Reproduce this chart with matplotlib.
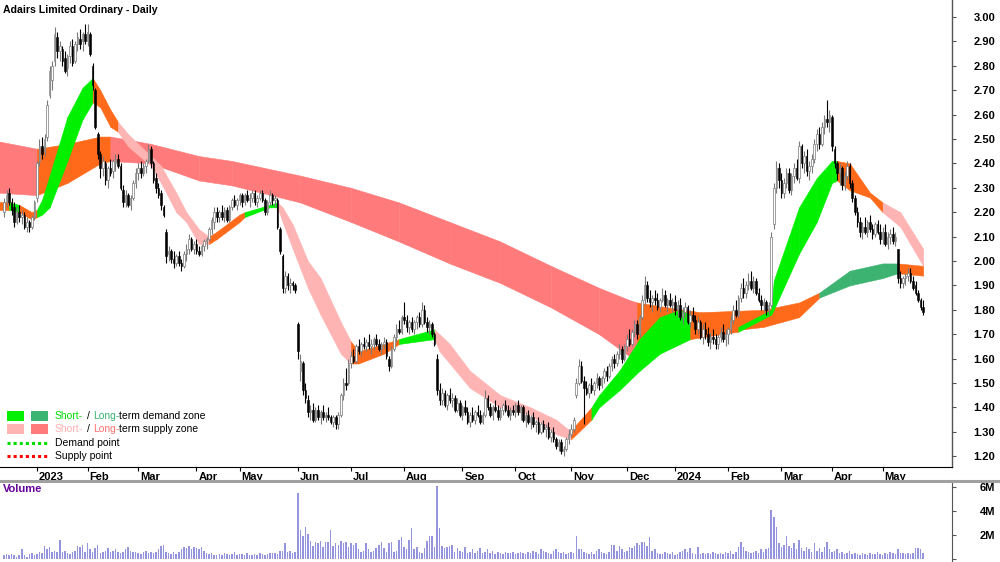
import numpy as np
import pandas as pd
import matplotlib
matplotlib.use("Agg")
import matplotlib.pyplot as plt
from matplotlib.lines import Line2D
from matplotlib.patches import Rectangle
from matplotlib.transforms import ScaledTranslation

# ---- daily bars, prices in cents (12 Dec 2022 .. 23 May 2024) ----
opens = [
    220, 224, 228, 224, 222, 216, 220, 218, 219, 214, 216, 214, 218,  # Dec 22
    226, 241, 247, 245, 251, 268, 274, 282, 292, 286, 287, 283, 279, 284, 288, 282, 289, 291, 290, 293,  # Jan
    290, 293, 280, 270, 252, 244, 238, 240, 233, 238, 237, 240, 242, 239, 229, 224, 227, 223, 226, 232,  # Feb
    236, 238, 236, 239, 241, 246, 240, 234, 230, 228, 222, 212, 203, 204, 201, 199, 202, 199, 198, 203, 205, 209, 205,  # Mar
    207, 204, 203, 206, 208, 209, 213, 216, 220, 218, 220, 218, 221, 217, 222, 225, 223,  # Apr
    225, 227, 224, 227, 225, 226, 228, 224, 226, 228, 225, 220, 224, 227, 225, 225, 213, 202, 189, 194, 190, 191, 190,  # May
    174, 155, 158, 147, 143, 138, 139, 135, 139, 136, 138, 136, 137, 136, 134, 136, 133, 137, 145, 150, 150,  # Jun
    158, 161, 159, 165, 163, 166, 165, 167, 165, 166, 168, 166, 164, 166, 167, 160, 157, 164, 169, 172, 171,  # Jul
    177, 176, 173, 175, 172, 175, 177, 174, 180, 175, 173, 174, 170, 160, 147, 143, 146, 141, 145, 143, 144, 139, 142,  # Aug
    137, 140, 138, 134, 137, 135, 138, 137, 134, 137, 144, 140, 137, 140, 139, 136, 139, 141, 139, 137, 139,  # Sep
    138, 141, 138, 140, 135, 137, 134, 136, 133, 134, 130, 133, 131, 132, 128, 130, 127, 124, 126, 122, 123, 127,  # Oct
    129, 131, 145, 150, 157, 151, 148, 146, 149, 147, 150, 152, 149, 152, 155, 153, 157, 160, 158, 162, 164, 160,  # Nov
    165, 168, 166, 171, 174, 170, 177, 184, 190, 185, 183, 185, 184, 181, 184, 186, 182, 184, 182,  # Dec
    183, 180, 182, 177, 179, 181, 175, 178, 176, 172, 175, 169, 172, 170, 167, 169, 168, 166, 169, 171, 168,  # Jan 24
    170, 172, 176, 180, 178, 185, 189, 187, 190, 192, 189, 192, 187, 184, 182, 183, 180, 182, 215, 230, 238,  # Feb
    233, 228, 232, 236, 229, 235, 238, 234, 247, 240, 243, 237, 239, 242, 248, 252, 248, 255, 258, 257,  # Mar
    259, 246, 240, 236, 238, 231, 235, 239, 232, 226, 220, 216, 212, 214, 212, 216, 213, 211, 215, 212,  # Apr
    209, 212, 207, 210, 211, 208, 205, 193, 191, 193, 194, 195, 192, 190, 187, 184, 181,  # May
]
highs = [
    226, 229, 230, 226, 224, 222, 223, 221, 220, 218, 217, 219, 225,
    241, 250, 251, 252, 266, 280, 282, 296, 294, 290, 288, 286, 285, 290, 291, 290, 294, 295, 294, 297,
    297, 294, 281, 271, 253, 245, 243, 241, 239, 242, 242, 244, 244, 240, 231, 229, 228, 227, 233, 238,
    240, 241, 240, 242, 248, 247, 241, 236, 232, 229, 223, 213, 206, 205, 204, 203, 204, 201, 204, 207, 211, 210, 208,
    209, 206, 207, 209, 210, 214, 218, 222, 222, 221, 223, 222, 222, 223, 226, 227, 226,
    228, 228, 228, 229, 228, 229, 229, 227, 229, 229, 226, 225, 229, 228, 227, 226, 214, 203, 196, 195, 193, 192, 191,
    175, 162, 159, 150, 145, 141, 142, 140, 141, 139, 141, 138, 140, 137, 137, 137, 138, 146, 152, 156, 160,
    163, 164, 166, 168, 167, 169, 168, 170, 168, 169, 170, 168, 167, 169, 168, 161, 165, 170, 174, 176, 178,
    183, 178, 176, 177, 176, 178, 179, 183, 182, 177, 176, 175, 171, 162, 150, 148, 147, 146, 148, 146, 145, 144, 143,
    141, 143, 140, 138, 140, 139, 141, 139, 138, 147, 145, 142, 141, 143, 141, 140, 142, 143, 141, 140, 141,
    142, 143, 141, 141, 138, 139, 137, 138, 135, 136, 134, 135, 133, 134, 131, 132, 128, 127, 127, 124, 128, 131,
    133, 136, 152, 160, 159, 153, 151, 150, 152, 151, 154, 153, 153, 156, 157, 158, 161, 162, 163, 166, 165, 166,
    170, 172, 172, 176, 176, 178, 186, 194, 192, 188, 186, 188, 187, 185, 189, 188, 185, 187, 185,
    186, 184, 185, 181, 183, 182, 180, 181, 178, 177, 176, 174, 175, 173, 171, 172, 170, 170, 173, 174, 172,
    173, 178, 182, 184, 186, 191, 193, 192, 195, 196, 194, 193, 189, 186, 185, 184, 183, 212, 232, 241, 240,
    236, 234, 238, 238, 236, 240, 242, 249, 248, 245, 246, 241, 244, 250, 254, 255, 257, 260, 266, 262,
    260, 247, 241, 240, 239, 237, 241, 240, 233, 227, 222, 218, 216, 218, 217, 219, 215, 216, 217, 215,
    214, 215, 212, 213, 214, 212, 205, 196, 194, 195, 197, 197, 194, 192, 188, 185, 184,
]
lows = [
    218, 222, 223, 219, 214, 215, 216, 215, 213, 212, 212, 213, 217,
    224, 239, 242, 243, 249, 267, 270, 280, 283, 282, 280, 277, 276, 281, 280, 281, 286, 287, 286, 289,
    288, 284, 270, 254, 242, 234, 235, 231, 230, 235, 234, 237, 238, 229, 222, 222, 222, 221, 225, 230,
    233, 234, 235, 236, 240, 238, 232, 228, 226, 221, 218, 199, 200, 199, 197, 198, 198, 196, 197, 200, 203, 204, 203,
    203, 202, 202, 204, 205, 208, 211, 213, 216, 216, 217, 216, 216, 216, 221, 222, 221,
    223, 222, 223, 224, 222, 224, 223, 222, 225, 224, 219, 219, 223, 223, 222, 213, 203, 187, 187, 188, 187, 188, 187,
    160, 151, 145, 142, 136, 135, 134, 134, 135, 133, 135, 134, 135, 133, 132, 131, 131, 136, 143, 147, 149,
    156, 158, 158, 162, 161, 164, 163, 164, 162, 164, 165, 163, 162, 164, 160, 155, 156, 163, 167, 170, 170,
    174, 171, 170, 171, 170, 172, 173, 173, 174, 171, 170, 169, 165, 145, 141, 141, 140, 139, 142, 140, 138, 138, 136,
    135, 137, 133, 132, 134, 133, 136, 133, 133, 136, 139, 136, 135, 138, 135, 135, 137, 138, 136, 135, 137,
    136, 137, 135, 134, 132, 133, 131, 132, 130, 129, 129, 130, 128, 127, 126, 126, 123, 122, 121, 120, 122, 125,
    128, 130, 144, 149, 150, 133, 145, 144, 146, 145, 148, 147, 148, 150, 151, 152, 155, 156, 157, 160, 158, 159,
    163, 165, 165, 169, 168, 169, 176, 182, 183, 181, 179, 182, 180, 179, 183, 181, 179, 181, 179,
    178, 177, 176, 174, 177, 174, 173, 175, 170, 170, 168, 166, 168, 165, 164, 166, 164, 164, 167, 167, 165,
    166, 170, 174, 177, 177, 183, 185, 185, 188, 188, 187, 186, 183, 180, 179, 178, 178, 181, 213, 228, 230,
    226, 226, 230, 228, 227, 232, 233, 232, 238, 236, 235, 233, 236, 240, 245, 246, 247, 252, 255, 253,
    245, 238, 233, 231, 229, 229, 233, 230, 224, 219, 214, 210, 209, 211, 210, 212, 209, 210, 211, 207,
    207, 206, 205, 207, 207, 206, 191, 189, 189, 190, 192, 191, 188, 186, 183, 180, 178,
]
closes = [
    224, 227, 224, 221, 216, 220, 218, 219, 214, 216, 214, 218, 224,
    240, 247, 244, 250, 264, 278, 280, 293, 286, 288, 282, 278, 284, 288, 281, 289, 292, 289, 293, 290,
    294, 285, 272, 255, 244, 238, 241, 233, 238, 236, 241, 242, 239, 230, 224, 227, 223, 226, 232, 236,
    238, 236, 239, 241, 246, 240, 233, 230, 227, 223, 219, 202, 204, 201, 199, 202, 199, 198, 203, 205, 209, 205, 207,
    204, 203, 206, 208, 209, 213, 217, 220, 218, 220, 218, 221, 217, 222, 225, 223, 225,
    227, 224, 227, 225, 226, 228, 224, 226, 228, 225, 220, 224, 227, 225, 226, 214, 204, 189, 194, 190, 191, 190, 188,
    163, 159, 147, 144, 138, 139, 135, 139, 136, 138, 136, 137, 136, 134, 136, 133, 137, 145, 150, 149, 158,
    161, 159, 165, 163, 166, 165, 167, 165, 166, 168, 166, 164, 166, 167, 161, 157, 164, 169, 172, 171, 177,
    176, 173, 175, 172, 175, 177, 174, 180, 175, 173, 174, 170, 166, 147, 143, 146, 141, 145, 143, 144, 139, 142, 137,
    140, 138, 134, 137, 135, 138, 137, 134, 137, 144, 140, 137, 140, 139, 136, 139, 141, 139, 137, 139, 138,
    141, 138, 140, 135, 137, 134, 136, 133, 134, 130, 133, 131, 132, 128, 130, 127, 124, 126, 122, 123, 127, 129,
    131, 135, 150, 157, 151, 148, 146, 149, 147, 150, 152, 149, 152, 155, 153, 157, 160, 158, 162, 164, 160, 165,
    168, 166, 171, 174, 170, 177, 184, 190, 185, 183, 185, 184, 181, 184, 186, 182, 184, 182, 183,
    180, 182, 177, 179, 181, 175, 178, 176, 172, 175, 169, 172, 170, 167, 169, 168, 166, 169, 171, 168, 170,
    172, 176, 180, 178, 185, 189, 187, 190, 192, 189, 192, 187, 184, 182, 183, 180, 182, 210, 230, 238, 233,
    228, 232, 236, 229, 235, 238, 234, 247, 240, 243, 237, 239, 242, 248, 252, 248, 255, 258, 257, 260,
    247, 240, 236, 238, 231, 235, 239, 232, 226, 220, 216, 212, 214, 212, 216, 213, 211, 215, 212, 209,
    212, 207, 210, 211, 208, 210, 193, 191, 193, 194, 195, 192, 189, 187, 184, 181, 179,
]
volume_m = [
    0.3, 0.4, 0.3, 0.4, 0.3, 0.2, 0.3, 0.8, 0.3, 0.2, 0.4, 0.5, 0.3, 0.4, 0.6, 0.5, 1.1, 0.8, 1.0, 0.6,
    0.7, 0.6, 1.6, 0.6, 0.7, 0.5, 0.4, 0.6, 0.7, 1.1, 1.0, 1.2, 0.6, 1.3, 0.8, 0.6, 0.9, 1.2, 0.5, 0.6,
    0.7, 0.9, 0.6, 0.7, 0.8, 0.6, 0.5, 0.6, 0.8, 1.0, 0.7, 0.6, 0.6, 0.5, 0.4, 0.6, 0.7, 0.5, 0.6, 0.5,
    0.6, 0.8, 1.1, 1.2, 0.6, 0.5, 0.4, 0.6, 0.4, 0.6, 0.8, 1.0, 0.9, 1.1, 0.8, 1.0, 0.9, 0.8, 1.0, 0.7,
    0.5, 0.4, 0.5, 0.3, 0.3, 0.4, 0.3, 0.5, 0.4, 0.3, 0.4, 0.6, 0.3, 0.4, 0.4, 0.3, 0.5, 0.3, 0.3, 0.4,
    0.3, 0.5, 0.4, 0.3, 0.4, 0.5, 0.5, 0.5, 0.4, 0.7, 0.7, 1.3, 0.6, 0.7, 0.5, 0.6, 5.5, 2.4, 1.9, 2.7,
    2.1, 1.5, 1.1, 1.4, 1.3, 1.5, 1.0, 1.4, 1.4, 2.4, 1.1, 1.3, 1.2, 1.5, 1.3, 1.4, 1.0, 1.3, 1.2, 1.3,
    0.8, 0.6, 0.7, 1.3, 0.8, 0.6, 0.7, 0.9, 1.2, 1.4, 0.9, 0.6, 1.3, 1.4, 0.6, 0.7, 1.6, 1.8, 1.0, 0.8,
    1.6, 2.6, 0.8, 1.0, 0.6, 0.5, 0.9, 1.5, 1.9, 1.9, 1.0, 6.1, 2.6, 1.1, 0.9, 1.0, 1.1, 1.2, 0.6, 0.9,
    0.7, 0.6, 1.0, 0.5, 0.6, 0.8, 0.5, 0.7, 0.9, 0.5, 0.6, 0.8, 0.5, 0.7, 0.4, 0.6, 0.5, 0.4, 0.6, 0.5,
    0.5, 0.6, 0.4, 0.5, 0.6, 0.5, 0.4, 0.6, 0.5, 0.7, 0.6, 0.4, 0.8, 0.7, 0.6, 0.5, 0.4, 0.7, 0.8, 0.6,
    0.5, 0.6, 0.4, 0.5, 0.6, 0.5, 1.9, 0.8, 0.8, 0.6, 0.5, 0.4, 0.6, 0.4, 0.7, 0.8, 0.6, 0.5, 0.4, 0.6,
    1.2, 1.2, 0.7, 1.1, 0.8, 0.6, 0.7, 1.0, 0.9, 1.1, 1.3, 1.2, 1.4, 1.4, 1.1, 1.8, 0.7, 0.8, 0.5, 0.4,
    0.4, 0.6, 0.5, 0.4, 0.6, 0.3, 0.4, 0.6, 0.7, 0.8, 0.6, 0.9, 0.5, 0.4, 1.0, 0.4, 0.5, 0.4, 0.5, 0.4,
    0.6, 0.5, 0.4, 0.5, 0.4, 0.6, 0.5, 0.7, 0.4, 0.6, 1.0, 1.4, 1.0, 0.7, 0.6, 0.5, 0.6, 0.7, 0.5, 0.8,
    0.6, 0.8, 0.9, 4.1, 3.5, 2.7, 1.3, 1.0, 1.2, 1.9, 1.1, 0.9, 1.3, 0.8, 1.6, 0.9, 0.7, 1.0, 0.8, 0.6,
    1.3, 0.7, 0.9, 0.6, 1.0, 1.4, 0.8, 0.6, 0.7, 0.8, 0.5, 0.6, 0.4, 0.5, 0.7, 0.4, 0.5, 0.4, 0.3, 0.5,
    0.4, 0.3, 0.5, 0.4, 0.4, 0.6, 0.4, 0.3, 0.5, 0.4, 0.6, 0.5, 0.4, 0.8, 0.5, 0.5, 0.4, 0.5, 0.4, 0.5,
    0.9, 0.9, 0.8, 0.5,
]

# ---- zone bands (bar index, top, bottom in cents, state) ----
# state: D = demand, S = supply, N = neutral (orange)
long_idx = [-2, 13, 25, 38, 42, 58, 77, 90, 117, 137, 156, 176, 196, 216, 235, 247,
            250, 262, 275, 300, 314, 322, 334, 347, 353, 363]
long_top = [249, 246, 248, 251, 251, 248, 243, 241, 235, 230, 224, 216, 208, 198, 189, 184,
            183, 181, 179, 180, 183, 187, 196, 199, 199, 198]
long_bot = [228, 227, 232, 240, 241, 240, 233, 231, 224, 216, 208, 199, 191, 181, 170, 161,
            160, 164, 170, 173, 177, 185, 190, 193, 195, 194]
long_state = "SNNNSSSSSSSSSSSSNNNNNDDDNN"

short_idx = [-2, 2, 6, 11, 13, 15, 18, 25, 31, 35, 38, 42, 45, 49, 58, 62, 68, 72, 77, 81,
             84, 93, 95, 105, 108, 110, 114, 120, 125, 133, 137, 140, 150, 156, 170, 172, 176,
             184, 196, 208, 218, 224, 226, 232, 235, 243, 251, 259, 267, 271, 283, 290, 303,
             304, 314, 321, 327, 329, 334, 342, 347, 354, 363]
short_top = [224, 224, 223, 220, 221, 225, 235, 259, 271, 275, 270, 262, 257, 252, 243, 239,
             228, 220, 213, 210, 212, 219, 220, 223, 224, 222, 215, 200, 193, 175, 167, 163,
             166, 168, 172, 170, 166, 155, 145, 140, 135, 130, 133, 140, 145, 155, 168, 177,
             180, 178, 174, 173, 180, 192, 222, 234, 241, 241, 240, 228, 224, 220, 205]
short_bot = [221, 221, 220, 217, 218, 219, 222, 241, 258, 265, 263, 255, 253, 247, 239, 232,
             220, 216, 207, 207, 209, 216, 218, 222, 222, 216, 205, 189, 178, 162, 158, 158,
             162, 166, 168, 163, 158, 148, 140, 137, 129, 127, 129, 135, 140, 147, 155, 162,
             166, 168, 170, 171, 178, 180, 203, 216, 232, 233, 229, 226, 220, 214, 198]
short_state = "NDNNDDDDDNNNSSSSSSSNNNDDSSSSSSNNNDSSSSSSSNNDDDDDDNNDDDDDDNNNSSSS"

holidays = ["2022-12-26", "2022-12-27", "2023-01-02", "2023-01-26", "2023-04-07",
            "2023-04-10", "2023-04-25", "2023-06-12", "2023-12-25", "2023-12-26",
            "2024-01-01", "2024-01-26", "2024-03-29", "2024-04-01", "2024-04-25"]

ZONE_COLORS = {
    "long": {"D": "#3cb371", "S": "#ff7b7b", "N": "#ff6a1a"},
    "short": {"D": "#00f000", "S": "#ffb4b4", "N": "#ff6a1a"},
}

W, H = 1000, 562
dates = pd.bdate_range("2022-12-12", "2024-05-23")
dates = dates[~dates.isin(pd.to_datetime(holidays))]
idx = np.arange(len(dates))

o = np.array(opens) / 100
h = np.array(highs) / 100
l = np.array(lows) / 100
c = np.array(closes) / 100

plt.rcParams["font.family"] = ["Liberation Sans", "DejaVu Sans"]
fig = plt.figure(figsize=(W / 100, H / 100), dpi=100)

ax = fig.add_axes([0, 1 - 467 / H, 952 / W, 467 / H])
axv = fig.add_axes([0, 0, 952 / W, (H - 483) / H])


def draw_band(xs, tops, bots, states, kind, z):
    for k in range(len(xs) - 1):
        col = ZONE_COLORS[kind][states[k]]
        ax.fill_between(xs[k:k + 2], np.array(bots[k:k + 2]) / 100,
                        np.array(tops[k:k + 2]) / 100,
                        color=col, lw=0.4, zorder=z)


draw_band(long_idx, long_top, long_bot, long_state, "long", 1)
draw_band(short_idx, short_top, short_bot, short_state, "short", 2)

# candles
up = c >= o
wick_col = np.where(up, "#7a7a7a", "black")
ax.vlines(idx, l, h, colors=wick_col, lw=0.8, zorder=3)
body_bot = np.minimum(o, c)
body_h = np.maximum(np.abs(c - o), 0.004)
ax.bar(idx[up], body_h[up], bottom=body_bot[up], width=0.62,
       color="white", edgecolor="#7a7a7a", linewidth=0.5, zorder=4)
ax.bar(idx[~up], body_h[~up], bottom=body_bot[~up], width=0.62,
       color="black", edgecolor="black", linewidth=0.4, zorder=4)

xlim = (-1.6, 374.4)
ax.set_xlim(*xlim)
ax.set_ylim(3.00 - 450 / 244, 3.00 + 17 / 244)

for s in ["top", "left"]:
    ax.spines[s].set_visible(False)
ax.spines["bottom"].set_color("black")
ax.spines["bottom"].set_linewidth(0.8)
ax.spines["right"].set_color("#555555")
ax.spines["right"].set_linewidth(1.0)

yt = np.round(np.arange(1.2, 3.001, 0.1), 2)
ax.set_yticks(yt)
ax.set_yticklabels([f"{v:.2f}" for v in yt])
ax.yaxis.tick_right()
ax.tick_params(axis="y", direction="out", length=3, color="#555555", pad=28,
               labelsize=8)
for t in ax.get_yticklabels():
    t.set_horizontalalignment("right")
    t.set_fontweight("bold")

# month ticks
tick_pos, tick_lab = [], []
for k in range(1, len(dates)):
    if dates[k].month != dates[k - 1].month:
        tick_pos.append(k)
        tick_lab.append(str(dates[k].year) if dates[k].month == 1 else dates[k].strftime("%b"))
ax.set_xticks(tick_pos)
ax.set_xticklabels(tick_lab)
ax.tick_params(axis="x", direction="out", length=3, color="black", pad=0.5, labelsize=8)
shift = ScaledTranslation(1.5 / 72, 0, fig.dpi_scale_trans)
for t in ax.get_xticklabels():
    t.set_horizontalalignment("left")
    t.set_fontweight("bold")
    t.set_transform(t.get_transform() + shift)

# volume
axv.bar(idx, volume_m, width=0.6, color="#9595dd", edgecolor="none")
axv.set_xlim(*xlim)
axv.set_ylim(-0.25, (559 - 483) / 12)
for s in ["top", "left", "bottom"]:
    axv.spines[s].set_visible(False)
axv.spines["right"].set_color("#555555")
axv.set_xticks([])
axv.set_yticks([0, 2, 4, 6])
axv.set_yticklabels(["", "2M", "4M", "6M"])
axv.yaxis.tick_right()
axv.tick_params(axis="y", direction="out", length=3, color="#555555", pad=28, labelsize=8)
for t in axv.get_yticklabels():
    t.set_horizontalalignment("right")
    t.set_fontweight("bold")

# separator between panels
fig.add_artist(Line2D([0, 1], [1 - 481 / H] * 2, color="#a0a0a0", lw=2.2))

fig.text(3 / W, 1 - 10 / H, "Adairs Limited Ordinary - Daily", fontsize=7.6,
         fontweight="bold", va="center")
fig.text(3 / W, 1 - 489 / H, "Volume", fontsize=8, fontweight="bold",
         color="#660099", va="center")


# legend
def px_rect(x, y, w, hh, col):
    fig.add_artist(Rectangle((x / W, 1 - (y + hh) / H), w / W, hh / H,
                             transform=fig.transFigure, color=col, lw=0))


def legend_row(y, pieces):
    prev = fig.text(55 / W, 1 - (y + 5) / H, pieces[0][0], color=pieces[0][1],
                    fontsize=7.5, va="bottom")
    for txt, col, gap in pieces[1:]:
        prev = ax.annotate(txt, xy=(1, 0), xycoords=prev, xytext=(gap, 0),
                           textcoords="offset points", color=col, fontsize=7.5,
                           va="bottom", ha="left", annotation_clip=False)


px_rect(7, 411, 17, 10, ZONE_COLORS["short"]["D"])
px_rect(31, 411, 17, 10, ZONE_COLORS["long"]["D"])
px_rect(7, 424, 17, 10, ZONE_COLORS["short"]["S"])
px_rect(31, 424, 17, 10, ZONE_COLORS["long"]["S"])
fig.add_artist(Line2D([7 / W, 48 / W], [1 - 443 / H] * 2, color="#00dd00", lw=2.2,
                      linestyle=(0, (1, 1))))
fig.add_artist(Line2D([7 / W, 48 / W], [1 - 456 / H] * 2, color="#ff0000", lw=2.2,
                      linestyle=(0, (1, 1))))
legend_row(416, [("Short-", "#00dd00", 0), ("/", "black", 2.5),
                 ("Long-", "#3cb371", 2.5), ("term demand zone", "black", 0)])
legend_row(429, [("Short-", "#ffb0b0", 0), ("/", "black", 2.5),
                 ("Long-", "#ff7070", 2.5), ("term supply zone", "black", 0)])
legend_row(443, [("Demand point", "black", 0)])
legend_row(456, [("Supply point", "black", 0)])

fig.savefig("out.png", dpi=100)
